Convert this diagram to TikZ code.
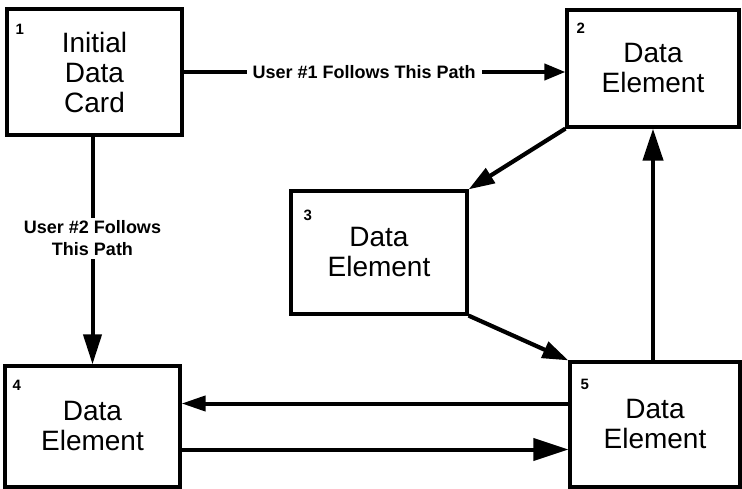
\documentclass[tikz,border=0pt]{standalone}
\usepackage{fontspec}
\setmainfont{Liberation Sans}
\usetikzlibrary{arrows.meta}
\begin{document}
\begin{tikzpicture}[x=1pt,y=-1pt,
  card/.style={draw, line width=3.2pt, rectangle, inner sep=0pt, align=center,
    font=\fontsize{28}{30}\selectfont},
  num/.style={inner sep=0pt, anchor=north west, font=\fontsize{15}{15}\selectfont\bfseries},
  flow/.style={line width=4.2pt, -{Triangle[length=26pt,width=17pt]}},
  pathlabel/.style={fill=white, inner xsep=6pt, inner ysep=3pt, align=center,
    font=\fontsize{18}{22}\selectfont\bfseries}]
\useasboundingbox (0,0) rectangle (742,489);

% cards
\node[card, minimum width=175pt, minimum height=126pt] (b1) at (94.5,72)  {Initial\\Data\\Card};
\node[card, minimum width=172pt, minimum height=117pt] (b2) at (653,68.5) {Data\\Element};
\node[card, minimum width=176pt, minimum height=123pt] (b3) at (379,252.5) {Data\\Element};
\node[card, minimum width=175pt, minimum height=121pt] (b4) at (92.5,426.5) {Data\\Element};
\node[card, minimum width=170pt, minimum height=125pt] (b5) at (655,424.5) {Data\\Element};

% card numbers
\node[num] (n1) at ([shift={(10,17)}]b1.north west) {1};
\node[num] (n2) at ([shift={(11,14)}]b2.north west) {2};
\node[num] (n3) at ([shift={(14,20)}]b3.north west) {3};
\node[num] (n4) at ([shift={(9,16)}]b4.north west) {4};
\node[num] (n5) at ([shift={(12,19)}]b5.north west) {5};

% user paths
\draw[line width=4pt, -{Triangle[length=21pt,width=16pt]}]
  (b1.east) -- node[pathlabel, pos=0.473] (l1) {User \#1 Follows This Path} (b1.east -| b2.west);
\draw[line width=4pt, -{Triangle[length=30pt,width=18pt]}]
  (b4.north |- b1.south) -- node[pathlabel, pos=0.446] (l2) {User \#2 Follows\\This Path} (b4.north);

% links between data elements
\draw[flow] (b2.south west) -- (b3.north east);
\draw[flow] (b3.south east) -- (b5.north west);
\draw[line width=4.2pt, -{Triangle[length=32pt,width=20pt]}] (b5.north -| b2.south) -- (b2.south);
\draw[line width=4pt, -{Triangle[length=24pt,width=15pt]}] ([yshift=23pt]b4.east -| b5.west) -- ([yshift=23pt]b4.east);
\draw[line width=4pt, -{Triangle[length=35pt,width=22pt]}] ([yshift=-23pt]b4.east) -- ([yshift=-23pt]b4.east -| b5.west);
\end{tikzpicture}
\end{document}
